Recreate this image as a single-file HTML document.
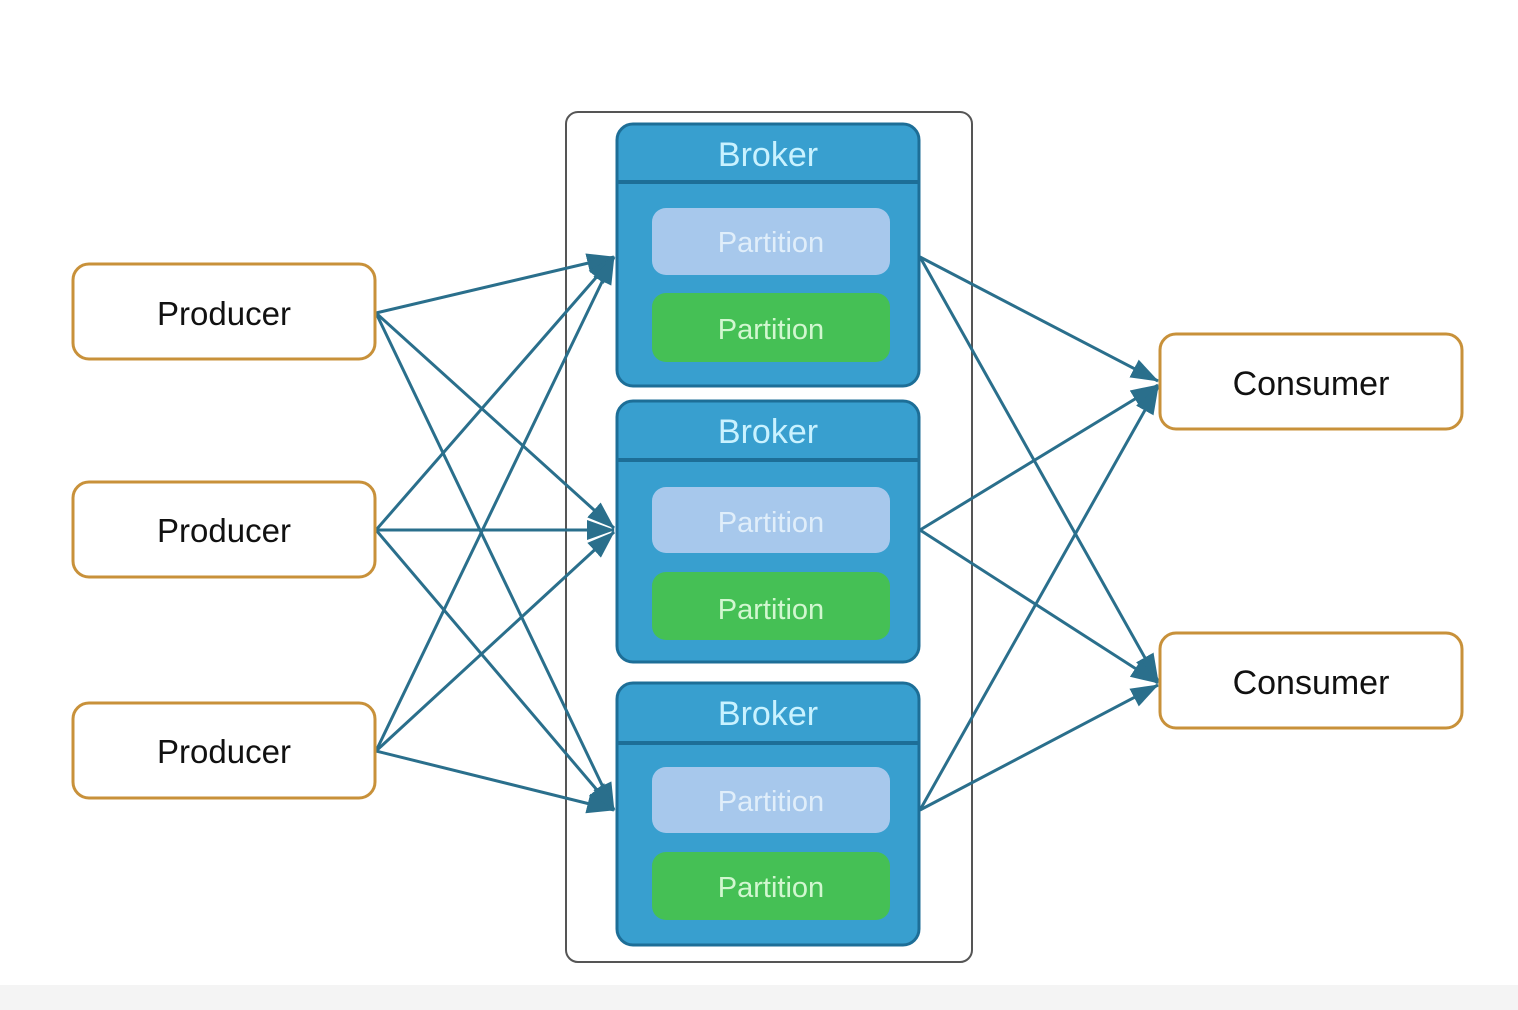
<!DOCTYPE html>
<html><head><meta charset="utf-8"><style>
html,body{margin:0;padding:0;background:#fff;}
svg{display:block;}
</style></head><body>
<svg width="1518" height="1010" viewBox="0 0 1518 1010" xmlns="http://www.w3.org/2000/svg" font-family="Liberation Sans, sans-serif">
<defs>
<marker id="a" markerWidth="28" markerHeight="22" refX="27" refY="11" orient="auto" markerUnits="userSpaceOnUse">
<path d="M0,1 L28,11 L0,21 z" fill="#2a6f8c"/>
</marker>
</defs>
<rect x="0" y="985" width="1518" height="25" fill="#f4f4f4"/>
<rect x="566" y="112" width="406" height="850" rx="12" fill="#fff" stroke="#555" stroke-width="2"/>

<g stroke="#2a6f8c" stroke-width="3" fill="none" marker-end="url(#a)">
<line x1="376" y1="313" x2="614" y2="257"/>
<line x1="376" y1="313" x2="614" y2="528"/>
<line x1="376" y1="313" x2="614" y2="810"/>
<line x1="376" y1="530" x2="614" y2="257"/>
<line x1="376" y1="530" x2="614" y2="530"/>
<line x1="376" y1="530" x2="614" y2="810"/>
<line x1="376" y1="751" x2="614" y2="257"/>
<line x1="376" y1="751" x2="614" y2="532"/>
<line x1="376" y1="751" x2="614" y2="810"/>
<line x1="920" y1="257" x2="1158" y2="381"/>
<line x1="920" y1="257" x2="1158" y2="681"/>
<line x1="920" y1="530" x2="1158" y2="385"/>
<line x1="920" y1="530" x2="1158" y2="683"/>
<line x1="920" y1="810" x2="1158" y2="387"/>
<line x1="920" y1="810" x2="1158" y2="685"/>
</g>

<g text-anchor="middle" fill="#111">
<g font-size="33">
<rect x="73" y="264" width="302" height="95" rx="16" fill="#fff" stroke="#c8913a" stroke-width="3"/>
<text x="224" y="325">Producer</text>
<rect x="73" y="482" width="302" height="95" rx="16" fill="#fff" stroke="#c8913a" stroke-width="3"/>
<text x="224" y="542">Producer</text>
<rect x="73" y="703" width="302" height="95" rx="16" fill="#fff" stroke="#c8913a" stroke-width="3"/>
<text x="224" y="763">Producer</text>
</g>
<g font-size="34">
<rect x="1160" y="334" width="302" height="95" rx="16" fill="#fff" stroke="#c8913a" stroke-width="3"/>
<text x="1311" y="395">Consumer</text>
<rect x="1160" y="633" width="302" height="95" rx="16" fill="#fff" stroke="#c8913a" stroke-width="3"/>
<text x="1311" y="694">Consumer</text>
</g>
</g>

<g text-anchor="middle">
<rect x="617" y="124" width="302" height="262" rx="16" fill="#389fcf" stroke="#1d6e97" stroke-width="3"/>
<line x1="618" y1="182" x2="918" y2="182" stroke="#1d6e97" stroke-width="4"/>
<text x="768" y="166" font-size="34" fill="#c9f2ff">Broker</text>
<rect x="652" y="208" width="238" height="67" rx="14" fill="#a7c8ec"/>
<text x="771" y="252" font-size="29" fill="#e0eefa">Partition</text>
<rect x="652" y="293" width="238" height="69" rx="14" fill="#45c055"/>
<text x="771" y="339" font-size="29" fill="#d2f7d0">Partition</text>

<rect x="617" y="401" width="302" height="261" rx="16" fill="#389fcf" stroke="#1d6e97" stroke-width="3"/>
<line x1="618" y1="460" x2="918" y2="460" stroke="#1d6e97" stroke-width="4"/>
<text x="768" y="443" font-size="34" fill="#c9f2ff">Broker</text>
<rect x="652" y="487" width="238" height="66" rx="14" fill="#a7c8ec"/>
<text x="771" y="532" font-size="29" fill="#e0eefa">Partition</text>
<rect x="652" y="572" width="238" height="68" rx="14" fill="#45c055"/>
<text x="771" y="619" font-size="29" fill="#d2f7d0">Partition</text>

<rect x="617" y="683" width="302" height="262" rx="16" fill="#389fcf" stroke="#1d6e97" stroke-width="3"/>
<line x1="618" y1="743" x2="918" y2="743" stroke="#1d6e97" stroke-width="4"/>
<text x="768" y="725" font-size="34" fill="#c9f2ff">Broker</text>
<rect x="652" y="767" width="238" height="66" rx="14" fill="#a7c8ec"/>
<text x="771" y="811" font-size="29" fill="#e0eefa">Partition</text>
<rect x="652" y="852" width="238" height="68" rx="14" fill="#45c055"/>
<text x="771" y="897" font-size="29" fill="#d2f7d0">Partition</text>
</g>
</svg>
</body></html>
